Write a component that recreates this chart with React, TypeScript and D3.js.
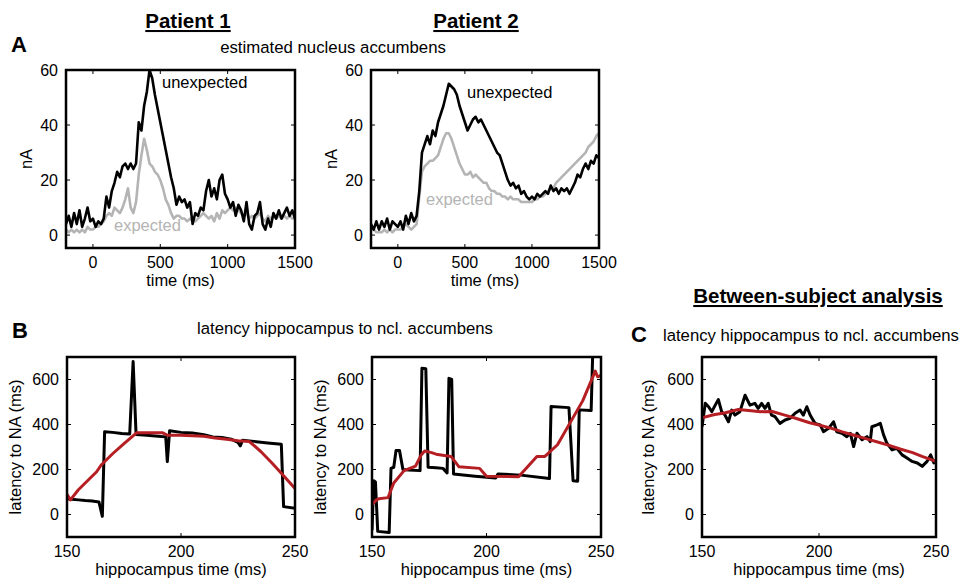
import * as d3 from "d3";

const FONT = "'Liberation Sans', Arial, sans-serif";
const RED = "#b51f24";
const GRAY = "#b4b4b4";

// sample grid of panel A (ms)
const timeGrid = d3.range(-200, 1501, 20);

const p1Unexpected = [
  4, 7, 3, 8, 4, 9, 3, 6, 10, 5,
  6, 3, 5, 4, 6, 14, 10, 16, 19, 23,
  21, 25, 26, 24, 26, 24, 26, 41, 38, 47,
  52, 60, 57, 51, 46, 41, 36, 31, 26, 21,
  17, 11, 14, 12, 13, 10, 12, 4, 8, 7,
  10, 9, 16, 20, 14, 17, 13, 20, 22, 15,
  13, 10, 12, 7, 11, 9, 5, 12, 4, 2,
  7, 8, 12, 4, 2, 6, 3, 8, 6, 9,
  6, 8, 10, 7, 9, 6,
];
const p1Expected = [
  2, 1, 2, 1, 2, 1, 2, 1, 3, 2,
  2, 3, 3, 4, 5, 7, 8, 7, 10, 9,
  8, 10, 13, 17, 10, 8, 12, 22, 29, 35,
  31, 26, 25, 23, 22, 20, 17, 13, 11, 8,
  6, 7, 7, 6, 6, 5, 6, 5, 5, 6,
  7, 8, 7, 6, 7, 5, 8, 6, 9, 8,
  9, 10, 9, 10, 9, 8, 7, 8, 6, 7,
  6, 7, 8, 6, 5, 7, 6, 7, 6, 7,
  6, 7, 6, 7, 6, 6,
];
const p2Unexpected = [
  4, 2, 5, 2, 5, 3, 6, 2, 5, 4,
  3, 5, 2, 7, 4, 8, 5, 7, 16, 30,
  33, 36, 33, 38, 36, 41, 44, 47, 51, 55,
  54, 53, 51, 47, 44, 41, 38, 40, 42, 43,
  41, 42, 40, 38, 36, 34, 32, 30, 29, 26,
  23, 20, 18, 19, 17, 18, 15, 16, 14, 13,
  14, 13, 15, 14, 15, 16, 15, 18, 16, 17,
  15, 17, 16, 17, 15, 17, 19, 22, 21, 24,
  26, 24, 27, 26, 29, 28,
];
const p2Expected = [
  3, 2, 1, 1, 1, 2, 1, 2, 1, 2,
  2, 2, 3, 4, 3, 2, 3, 4, 14, 23,
  25, 26, 27, 27, 28, 29, 32, 35, 37, 37,
  35, 32, 29, 26, 24, 22, 22, 23, 21, 22,
  21, 20, 19, 19, 17, 16, 16, 15, 15, 14,
  14, 13, 14, 13, 13, 13, 12, 12, 12, 12,
  12, 13, 13, 14, 14, 15, 16, 17, 17, 19,
  20, 21, 22, 23, 24, 25, 26, 27, 28, 29,
  30, 32, 33, 34, 36, 37,
];

// panel B, patient 1
const b1Hipp = [150, 152, 155, 158, 161, 164, 165.5, 166.5, 170, 174, 177.5, 179, 180.3, 185, 190, 193.3, 194, 195, 200, 205, 210, 214, 218, 222, 225, 226, 227, 232, 238, 244, 245, 250];
const b1Latency = [70, 68, 65, 62, 60, 56, -8, 368, 365, 360, 358, 680, 355, 352, 348, 345, 235, 372, 365, 362, 355, 345, 342, 335, 320, 305, 330, 325, 318, 312, 35, 28];
const b1SmoothHipp = [150, 151.5, 155, 160, 163, 165, 170, 175, 180.5, 186, 192, 194, 200, 205, 210, 215, 220, 225, 230, 235, 240, 245, 250];
const b1SmoothLatency = [90, 65, 110, 160, 190, 220, 270, 315, 363, 363, 363, 352, 352, 350, 348, 340, 334, 328, 324, 280, 228, 172, 116];

// panel B, patient 2
const b2Hipp = [150, 150.8, 151.5, 152.5, 157.5, 158.3, 159.5, 160.5, 162, 163.5, 166, 171, 171.8, 173.5, 174.5, 178, 181, 182.8, 183.6, 184.8, 185.6, 195, 204, 205, 215, 227.5, 228.2, 236, 237.8, 239.8, 240.5, 245.7, 246.5];
const b2Latency = [-70, 150, 145, -75, -80, 205, 210, 285, 285, 200, 198, 195, 650, 648, 210, 208, 205, 185, 605, 600, 180, 170, 162, 180, 175, 160, 480, 475, 150, 148, 465, 462, 760];
const b2SmoothHipp = [150, 152, 153, 157, 159.5, 164, 169, 171.5, 173, 176, 178, 184.5, 188, 197, 200, 214, 222, 225.5, 231, 242, 247.5, 248.5, 250];
const b2SmoothLatency = [45, 65, 70, 75, 140, 195, 215, 265, 282, 275, 268, 258, 212, 205, 170, 168, 258, 258, 310, 505, 637, 612, 618];

// panel C, between subjects
const cHipp = [150, 151.4, 152.8, 154.2, 155.6, 157, 158.4, 159.8, 161.3, 162.7, 164.1, 166.2, 168.4, 170.5, 172.6, 174, 175.5, 176.9, 178.3, 179.7, 181.2, 183.3, 185.5, 187.6, 189.8, 191.9, 193.3, 194.8, 196.2, 198.3, 200.5, 201.9, 204.1, 206.2, 207.6, 209.8, 211.9, 213.4, 214.8, 216.2, 218.4, 220.5, 221.9, 222.6, 224.8, 226.2, 227.6, 229, 231.2, 233.3, 235.5, 237.6, 239.8, 242, 244.1, 246.2, 247.7, 249.1, 250];
const cLatency = [390, 494, 479, 457, 485, 511, 457, 442, 412, 464, 442, 457, 530, 486, 494, 472, 494, 472, 494, 442, 435, 405, 420, 427, 450, 464, 442, 479, 442, 405, 398, 368, 383, 412, 368, 361, 346, 361, 302, 361, 332, 346, 324, 390, 398, 405, 354, 317, 287, 294, 265, 251, 236, 229, 214, 236, 265, 229, 243];
const cSmoothHipp = [150, 155, 160, 165.5, 170, 175, 180, 185, 190, 196, 200, 205, 210, 215, 220, 225, 230, 235, 240, 244, 250];
const cSmoothLatency = [430, 443, 452, 467, 462, 457, 458, 443, 428, 408, 398, 384, 367, 352, 337, 322, 307, 290, 275, 258, 236];

const timeTicks = [0, 500, 1000, 1500];
const nATicks = [0, 20, 40, 60];
const hippTicks = [150, 200, 250];
const latencyTicks = [0, 200, 400, 600];

type Series = { xs: number[]; ys: number[]; color: string; width: number };

type PanelProps = {
  id: string;
  left: number;
  top: number;
  width: number;
  height: number;
  xDomain: [number, number];
  yDomain: [number, number];
  xTicks: number[];
  yTicks: number[];
  series: Series[];
  xLabel: string;
  yLabel: string;
  yLabelX: number;
};

const Panel = ({ id, left, top, width, height, xDomain, yDomain, xTicks, yTicks, series, xLabel, yLabel, yLabelX }: PanelProps) => {
  const x = d3.scaleLinear().domain(xDomain).range([left, left + width]);
  const y = d3.scaleLinear().domain(yDomain).range([top + height, top]);
  const line = d3
    .line<[number, number]>()
    .x((d) => x(d[0]))
    .y((d) => y(d[1]));
  const tick = 4;
  const bottom = top + height;
  const right = left + width;

  return (
    <g>
      <clipPath id={id}>
        <rect x={left} y={top} width={width} height={height} />
      </clipPath>
      <g clipPath={`url(#${id})`}>
        {series.map((s, i) => (
          <path
            key={i}
            d={line(s.xs.map((v, j) => [v, s.ys[j]] as [number, number])) || ""}
            fill="none"
            stroke={s.color}
            strokeWidth={s.width}
            strokeLinejoin="round"
          />
        ))}
      </g>
      {xTicks.map((t) => (
        <g key={`x${t}`}>
          <line x1={x(t)} x2={x(t)} y1={bottom} y2={bottom - tick} stroke="#000" strokeWidth={1} />
          <line x1={x(t)} x2={x(t)} y1={top} y2={top + tick} stroke="#000" strokeWidth={1} />
          <text x={x(t)} y={bottom + 20} textAnchor="middle" fontSize={16} fontFamily={FONT}>
            {t}
          </text>
        </g>
      ))}
      {yTicks.map((t) => (
        <g key={`y${t}`}>
          <line x1={left} x2={left + tick} y1={y(t)} y2={y(t)} stroke="#000" strokeWidth={1} />
          <line x1={right} x2={right - tick} y1={y(t)} y2={y(t)} stroke="#000" strokeWidth={1} />
          <text x={left - 8} y={y(t)} dy="0.36em" textAnchor="end" fontSize={16} fontFamily={FONT}>
            {t}
          </text>
        </g>
      ))}
      <rect x={left} y={top} width={width} height={height} fill="none" stroke="#000" strokeWidth={2.5} />
      <text x={left + width / 2} y={bottom + 37.5} textAnchor="middle" fontSize={16.5} fontFamily={FONT}>
        {xLabel}
      </text>
      <text
        transform={`translate(${yLabelX},${top + height / 2}) rotate(-90)`}
        textAnchor="middle"
        fontSize={16.5}
        fontFamily={FONT}
      >
        {yLabel}
      </text>
    </g>
  );
};

const Heading = ({ x, y, text }: { x: number; y: number; text: string }) => (
  <text x={x} y={y} textAnchor="middle" fontSize={20.5} fontWeight="bold" fontFamily={FONT} textDecoration="underline">
    {text}
  </text>
);

const Letter = ({ x, y, text }: { x: number; y: number; text: string }) => (
  <text x={x} y={y} fontSize={22} fontWeight="bold" fontFamily={FONT}>
    {text}
  </text>
);

export default function App() {
  const aTop = 70;
  const aHeight = 178;
  const bTop = 357;
  const bHeight = 180;
  const timeDomain: [number, number] = [-200, 1500];
  const nADomain: [number, number] = [-4.7, 60];
  const hippDomain: [number, number] = [150, 250];
  const latencyDomain: [number, number] = [-100, 700];

  return (
    <svg
      width={962}
      height={582}
      viewBox="0 0 962 582"
      style={{ position: "absolute", left: 0, top: 0, background: "#fff" }}
    >
      <Heading x={188} y={28} text="Patient 1" />
      <Heading x={476} y={28} text="Patient 2" />
      <Heading x={818} y={303} text="Between-subject analysis" />

      <Letter x={11} y={52} text="A" />
      <Letter x={12} y={338} text="B" />
      <Letter x={631} y={342} text="C" />

      <text x={333} y={53} textAnchor="middle" fontSize={16.8} fontFamily={FONT}>
        estimated nucleus accumbens
      </text>
      <text x={345} y={334} textAnchor="middle" fontSize={16.7} fontFamily={FONT}>
        latency hippocampus to ncl. accumbens
      </text>
      <text x={663} y={341} fontSize={16.7} fontFamily={FONT}>
        latency hippocampus to ncl. accumbens
      </text>

      <Panel
        id="a1"
        left={66}
        top={aTop}
        width={229}
        height={aHeight}
        xDomain={timeDomain}
        yDomain={nADomain}
        xTicks={timeTicks}
        yTicks={nATicks}
        series={[
          { xs: timeGrid, ys: p1Expected, color: GRAY, width: 2.6 },
          { xs: timeGrid, ys: p1Unexpected, color: "#000", width: 2.6 },
        ]}
        xLabel="time (ms)"
        yLabel="nA"
        yLabelX={32}
      />
      <text x={162} y={88} fontSize={16.5} fontFamily={FONT}>unexpected</text>
      <text x={114} y={231} fontSize={16.5} fontFamily={FONT} fill={GRAY}>expected</text>

      <Panel
        id="a2"
        left={371}
        top={aTop}
        width={228}
        height={aHeight}
        xDomain={timeDomain}
        yDomain={nADomain}
        xTicks={timeTicks}
        yTicks={nATicks}
        series={[
          { xs: timeGrid, ys: p2Expected, color: GRAY, width: 2.6 },
          { xs: timeGrid, ys: p2Unexpected, color: "#000", width: 2.6 },
        ]}
        xLabel="time (ms)"
        yLabel="nA"
        yLabelX={337}
      />
      <text x={467} y={98} fontSize={16.5} fontFamily={FONT}>unexpected</text>
      <text x={426} y={205} fontSize={16.5} fontFamily={FONT} fill={GRAY}>expected</text>

      <Panel
        id="b1"
        left={67}
        top={bTop}
        width={228}
        height={bHeight}
        xDomain={hippDomain}
        yDomain={latencyDomain}
        xTicks={hippTicks}
        yTicks={latencyTicks}
        series={[
          { xs: b1Hipp, ys: b1Latency, color: "#000", width: 3 },
          { xs: b1SmoothHipp, ys: b1SmoothLatency, color: RED, width: 3 },
        ]}
        xLabel="hippocampus time (ms)"
        yLabel="latency to NA (ms)"
        yLabelX={21}
      />
      <Panel
        id="b2"
        left={372}
        top={bTop}
        width={229}
        height={bHeight}
        xDomain={hippDomain}
        yDomain={latencyDomain}
        xTicks={hippTicks}
        yTicks={latencyTicks}
        series={[
          { xs: b2Hipp, ys: b2Latency, color: "#000", width: 3 },
          { xs: b2SmoothHipp, ys: b2SmoothLatency, color: RED, width: 3 },
        ]}
        xLabel="hippocampus time (ms)"
        yLabel="latency to NA (ms)"
        yLabelX={326}
      />
      <Panel
        id="c"
        left={702}
        top={bTop}
        width={234}
        height={bHeight}
        xDomain={hippDomain}
        yDomain={latencyDomain}
        xTicks={hippTicks}
        yTicks={latencyTicks}
        series={[
          { xs: cHipp, ys: cLatency, color: "#000", width: 3 },
          { xs: cSmoothHipp, ys: cSmoothLatency, color: RED, width: 3 },
        ]}
        xLabel="hippocampus time (ms)"
        yLabel="latency to NA (ms)"
        yLabelX={654}
      />
    </svg>
  );
}
